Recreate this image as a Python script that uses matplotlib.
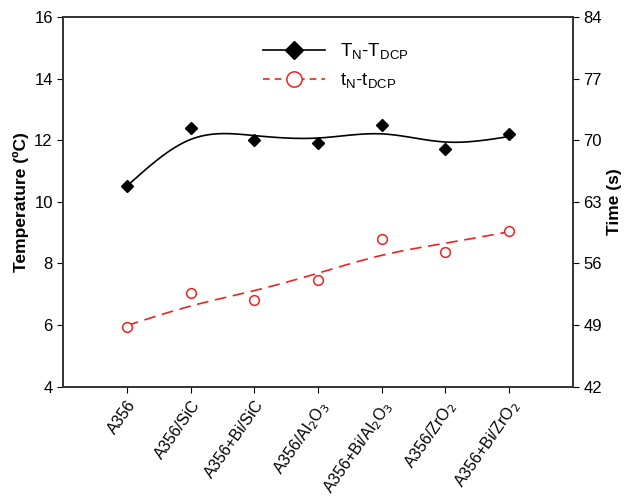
import numpy as np
import matplotlib.pyplot as plt

plt.rcParams['font.family'] = ['Liberation Sans', 'DejaVu Sans']

samples = ['A356', 'A356/SiC', 'A356+Bi/SiC', 'A356/Al$_2$O$_3$',
           'A356+Bi/Al$_2$O$_3$', 'A356/ZrO$_2$', 'A356+Bi/ZrO$_2$']
temp_diff = [10.5, 12.4, 12.0, 11.9, 12.5, 11.7, 12.2]
time_diff = [48.8, 52.7, 51.8, 54.1, 58.8, 57.3, 59.7]


def smooth_curve(y, lam, step=20, w0=1.0):
    # discrete smoothing spline (penalised 2nd differences) on a fine grid
    n = (len(y) - 1) * step + 1
    W = np.zeros(n)
    z = np.zeros(n)
    W[::step] = 1.0
    W[0] = w0
    z[::step] = y
    D = np.diff(np.eye(n), 2, axis=0)
    A = np.diag(W) + lam * D.T @ D
    return np.linspace(0, len(y) - 1, n), np.linalg.solve(A, W * z)


x = np.arange(len(samples))

fig, ax = plt.subplots(figsize=(6.26, 4.99), dpi=100)
fig.subplots_adjust(left=0.101, right=0.915, top=0.966, bottom=0.225)
ax2 = ax.twinx()

xs, ysT = smooth_curve(temp_diff, 700, w0=20)
xs, yst = smooth_curve(time_diff, 6000, w0=4)

ax.plot(xs, ysT, color='black', lw=1.2)
ax.plot(x, temp_diff, ls='none', marker='D', ms=6, color='black')
ax2.plot(xs, yst, color='#ee2222', lw=1.2, dashes=(7, 4))
ax2.plot(x, time_diff, ls='none', marker='o', ms=7, mfc='white',
         mec='#ee2222', mew=1.1)

# legend proxies
hT, = ax.plot([], [], color='black', lw=1.2, marker='D', ms=9)
ht, = ax.plot([], [], color='#ee2222', lw=1.2, dashes=(4, 3), marker='o',
              ms=11, mfc='white', mec='#ee2222', mew=1.1)
ax.legend([hT, ht], ['T$_\\mathregular{N}$-T$_\\mathregular{DCP}$',
                     't$_\\mathregular{N}$-t$_\\mathregular{DCP}$'],
          loc='upper center', bbox_to_anchor=(0.535, 0.98), frameon=False,
          fontsize=13.5, handlelength=3.3, labelspacing=0.55)

ax.set_xlim(-1, 7)
ax.set_ylim(4, 16)
ax2.set_ylim(42, 84)
ax.set_yticks(np.arange(4, 17, 2))
ax2.set_yticks(np.arange(42, 85, 7))
ax.set_xticks(x)
ax.set_xticklabels(samples, rotation=55, ha='right', rotation_mode='anchor',
                   fontsize=11.5)
ax.tick_params(axis='y', labelsize=12, direction='out', length=4)
ax2.tick_params(axis='y', labelsize=12, direction='out', length=4)
ax.tick_params(axis='x', direction='out', length=4, pad=4)

ax.set_ylabel('Temperature (ºC)', fontsize=12.5, fontweight='bold')
ax2.set_ylabel('Time (s)', fontsize=12.5, fontweight='bold')

for a in (ax, ax2):
    for s in a.spines.values():
        s.set_linewidth(1.2)
        s.set_color('#333333')

fig.savefig('out.png')
